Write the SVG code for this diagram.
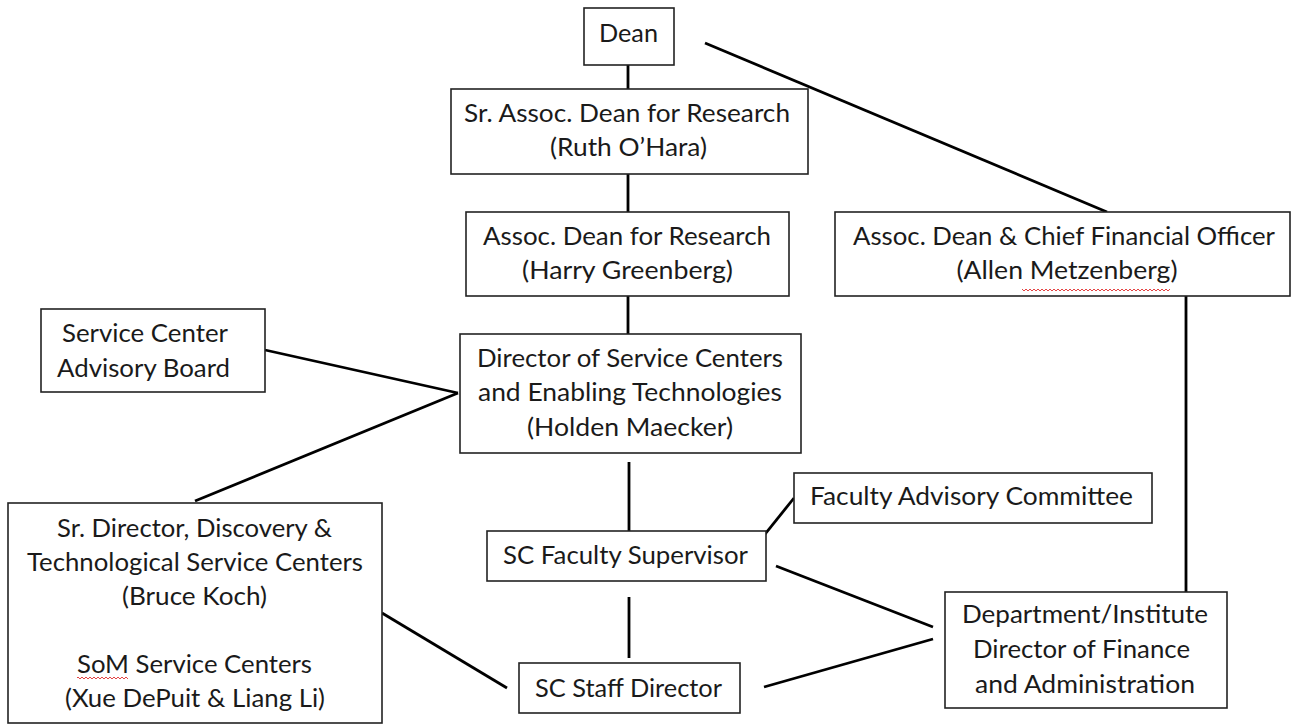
<svg xmlns="http://www.w3.org/2000/svg" width="1298" height="725" viewBox="0 0 1298 725">
<defs>
<pattern id="squig" x="0" y="0" width="4" height="4" patternUnits="userSpaceOnUse">
<polyline points="0,3 2,1 4,3" fill="none" stroke="#e03030" stroke-width="0.9"/>
</pattern>
</defs>
<style>
.box{fill:#fff;stroke:#222;stroke-width:1.6}
.t{font-family:Lato,"Liberation Sans",sans-serif;font-size:25px;fill:#1a1a1a;text-anchor:middle}
.c{stroke:#000;stroke-width:2.8;fill:none}
</style>
<rect width="1298" height="725" fill="#fff"/>
<g id="connectors">
<line class="c" x1="628" y1="65" x2="628" y2="89"/>
<line class="c" x1="628" y1="174" x2="628" y2="212"/>
<line class="c" x1="628" y1="296" x2="628" y2="334"/>
<line class="c" x1="705" y1="43" x2="1107" y2="212"/>
<line class="c" x1="1186" y1="296" x2="1186" y2="592"/>
<line class="c" x1="265" y1="350" x2="458" y2="393"/>
<line class="c" x1="458" y1="393" x2="195" y2="501"/>
<line class="c" x1="629" y1="462" x2="629" y2="531"/>
<line class="c" x1="762" y1="538" x2="794" y2="498"/>
<line class="c" x1="776" y1="566" x2="933" y2="627"/>
<line class="c" x1="629" y1="597" x2="629" y2="658"/>
<line class="c" x1="382" y1="613" x2="507" y2="688"/>
<line class="c" x1="764" y1="687" x2="933" y2="639"/>
</g>
<g id="dean">
<rect class="box" x="584" y="8" width="90" height="57"/>
<text class="t" x="628.5" y="42" textLength="59" lengthAdjust="spacingAndGlyphs">Dean</text>
</g>
<g id="sr-assoc-dean">
<rect class="box" x="451" y="89" width="357" height="85"/>
<text class="t" x="627" y="122" textLength="326" lengthAdjust="spacingAndGlyphs">Sr. Assoc. Dean for Research</text>
<text class="t" x="628.5" y="156" textLength="157" lengthAdjust="spacingAndGlyphs">(Ruth O’Hara)</text>
</g>
<g id="assoc-dean-research">
<rect class="box" x="466" y="212" width="323" height="84"/>
<text class="t" x="627" y="245" textLength="288" lengthAdjust="spacingAndGlyphs">Assoc. Dean for Research</text>
<text class="t" x="627.5" y="279" textLength="211" lengthAdjust="spacingAndGlyphs">(Harry Greenberg)</text>
</g>
<g id="assoc-dean-cfo">
<rect class="box" x="835" y="212" width="455" height="84"/>
<text class="t" x="1064" y="245" textLength="422" lengthAdjust="spacingAndGlyphs">Assoc. Dean &amp; Chief Financial Officer</text>
<text class="t" x="1067" y="279" textLength="221" lengthAdjust="spacingAndGlyphs">(Allen Metzenberg)</text>
<rect x="1022" y="287" width="148" height="4" fill="url(#squig)"/>
</g>
<g id="advisory-board">
<rect class="box" x="41" y="309" width="224" height="83"/>
<text class="t" x="145" y="342" textLength="166" lengthAdjust="spacingAndGlyphs">Service Center</text>
<text class="t" x="143.5" y="377" textLength="173" lengthAdjust="spacingAndGlyphs">Advisory Board</text>
</g>
<g id="director">
<rect class="box" x="460" y="334" width="341" height="119"/>
<text class="t" x="630" y="367" textLength="306" lengthAdjust="spacingAndGlyphs">Director of Service Centers</text>
<text class="t" x="630" y="401" textLength="304" lengthAdjust="spacingAndGlyphs">and Enabling Technologies</text>
<text class="t" x="630" y="436" textLength="206" lengthAdjust="spacingAndGlyphs">(Holden Maecker)</text>
</g>
<g id="sr-director">
<rect class="box" x="8" y="503" width="374" height="220"/>
<text class="t" x="194.5" y="537" textLength="275" lengthAdjust="spacingAndGlyphs">Sr. Director, Discovery &amp;</text>
<text class="t" x="195" y="571" textLength="336" lengthAdjust="spacingAndGlyphs">Technological Service Centers</text>
<text class="t" x="194.5" y="605" textLength="145" lengthAdjust="spacingAndGlyphs">(Bruce Koch)</text>
<text class="t" x="194.5" y="673" textLength="235" lengthAdjust="spacingAndGlyphs">SoM Service Centers</text>
<text class="t" x="195" y="707" textLength="260" lengthAdjust="spacingAndGlyphs">(Xue DePuit &amp; Liang Li)</text>
<rect x="77" y="676" width="51" height="4" fill="url(#squig)"/>
</g>
<g id="faculty-supervisor">
<rect class="box" x="487" y="531" width="279" height="50"/>
<text class="t" x="625.5" y="564" textLength="245" lengthAdjust="spacingAndGlyphs">SC Faculty Supervisor</text>
</g>
<g id="faculty-advisory">
<rect class="box" x="794" y="473" width="358" height="50"/>
<text class="t" x="971.5" y="505" textLength="323" lengthAdjust="spacingAndGlyphs">Faculty Advisory Committee</text>
</g>
<g id="staff-director">
<rect class="box" x="519" y="663" width="221" height="50"/>
<text class="t" x="628.5" y="697" textLength="187" lengthAdjust="spacingAndGlyphs">SC Staff Director</text>
</g>
<g id="dept-director">
<rect class="box" x="945" y="592" width="282" height="116"/>
<text class="t" x="1085" y="623" textLength="246" lengthAdjust="spacingAndGlyphs">Department/Institute</text>
<text class="t" x="1081.5" y="658" textLength="217" lengthAdjust="spacingAndGlyphs">Director of Finance</text>
<text class="t" x="1085" y="693" textLength="220" lengthAdjust="spacingAndGlyphs">and Administration</text>
</g>
</svg>
